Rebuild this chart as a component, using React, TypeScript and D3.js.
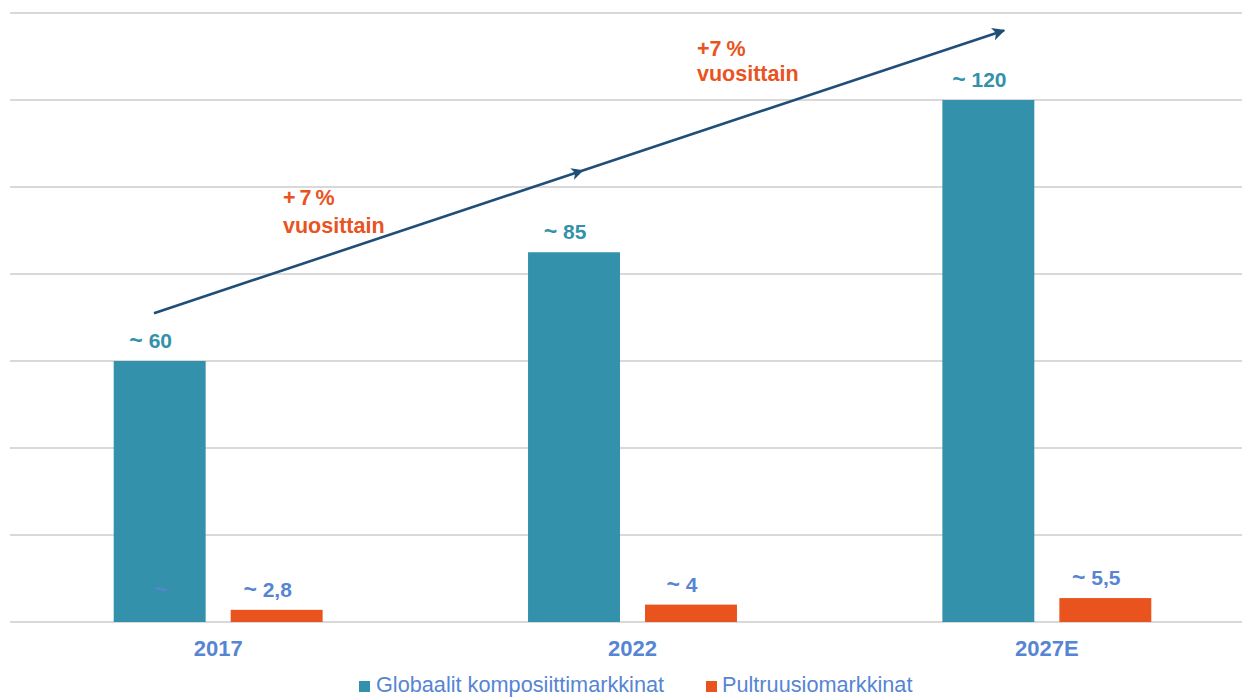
import React from "react";
import * as d3 from "d3";

const categories = ["2017", "2022", "2027E"];
const seriesNames = ["Globaalit komposiittimarkkinat", "Pultruusiomarkkinat"];
const compositeValues = [60, 85, 120];
const pultrusionValues = [2.8, 4, 5.5];
const compositeLabels = ["60", "85", "120"];
const pultrusionLabels = ["2,8", "4", "5,5"];
const yTicks = [0, 20, 40, 60, 80, 100, 120, 140];
const growthLabels = [["+ 7 %", "vuosittain"], ["+7 %", "vuosittain"]];

const W = 1242;
const H = 697;
const TEAL = "#3391AB";
const ORANGE = "#E9531E";
const BLUE = "#5685D3";
const NAVY = "#1F4E79";
const GRID = "#D9D9D9";
const FONT = "'Liberation Sans', Arial, sans-serif";

export default function App() {
  const x = d3.scaleBand<string>().domain(categories).range([11, 1254]).padding(0);
  const inner = d3
    .scaleBand<string>()
    .domain(seriesNames)
    .range([0, x.bandwidth()])
    .paddingInner(0.214)
    .paddingOuter(0.878);
  const y = d3.scaleLinear().domain([0, 140]).range([622, 13]);

  const series = [
    { name: seriesNames[0], values: compositeValues, labels: compositeLabels, color: TEAL, labelColor: "#3391AB" },
    { name: seriesNames[1], values: pultrusionValues, labels: pultrusionLabels, color: ORANGE, labelColor: BLUE },
  ];

  // growth arrow (annotation) anchored on scales
  const ax0 = (x("2017") as number) + 143;
  const ay0 = y(71);
  const ax1 = (x("2017") as number) + 993;
  const ay1 = y(136);
  const amx = (ax0 + ax1) / 2;
  const amy = (ay0 + ay1) / 2;
  const arrowPts: [number, number][] = [
    [ax0, ay0],
    [amx, amy],
    [ax1, ay1],
  ];
  const arrowPath = d3.line()(arrowPts) || "";

  return (
    <div style={{ position: "fixed", left: 0, top: 0 }}>
      <svg width={W} height={H} style={{ display: "block", fontFamily: FONT }}>
        <defs>
          <marker id="ah" viewBox="0 0 10 10" refX="9" refY="5" markerWidth="5" markerHeight="5" orient="auto" markerUnits="strokeWidth">
            <path d="M0,0 L10,5 L0,10 L2.5,5 Z" fill={NAVY} />
          </marker>
          <marker id="ahm" viewBox="0 0 10 10" refX="6" refY="5" markerWidth="4.6" markerHeight="4.6" orient="auto" markerUnits="strokeWidth">
            <path d="M0,0 L10,5 L0,10 L2.5,5 Z" fill={NAVY} />
          </marker>
        </defs>
        <rect width={W} height={H} fill="#fff" />
        {yTicks.map((t) => (
          <line key={t} x1={10} x2={W} y1={y(t)} y2={y(t)} stroke={GRID} strokeWidth={2} />
        ))}
        {categories.map((c, i) => (
          <g key={c}>
            {series.map((s) => {
              const bx = (x(c) as number) + (inner(s.name) as number);
              const bw = inner.bandwidth();
              const v = s.values[i];
              return (
                <g key={s.name}>
                  <rect x={bx} y={y(v)} width={bw} height={y(0) - y(v)} fill={s.color} />
                  <text
                    x={bx + bw / 2 - 9}
                    y={y(v) - 13}
                    textAnchor="middle"
                    fontSize={21}
                    fontWeight="bold"
                    fill={s.labelColor}
                  >
                    <tspan fontSize={23}>~</tspan>
                    <tspan> {s.labels[i]}</tspan>
                  </text>
                </g>
              );
            })}
            <text
              x={(x(c) as number) + x.bandwidth() / 2}
              y={656}
              textAnchor="middle"
              fontSize={22}
              fontWeight="bold"
              fill={BLUE}
            >
              {c}
            </text>
          </g>
        ))}
        {/* stray tilde inside the first teal bar */}
        <text
          x={(x("2017") as number) + (inner(seriesNames[0]) as number) + inner.bandwidth() / 2 + 1}
          y={597}
          textAnchor="middle"
          fontSize={23}
          fontWeight="bold"
          fill={BLUE}
        >
          ~
        </text>
        <path d={arrowPath} fill="none" stroke={NAVY} strokeWidth={2.6} markerMid="url(#ahm)" markerEnd="url(#ah)" />
        {/* growth labels */}
        <text x={283} y={205} fontSize={21.5} fontWeight="bold" fill={ORANGE} wordSpacing={-2}>
          {growthLabels[0][0]}
        </text>
        <text x={283} y={233} fontSize={21.5} fontWeight="bold" fill={ORANGE}>
          {growthLabels[0][1]}
        </text>
        <text x={697} y={56} fontSize={21.5} fontWeight="bold" fill={ORANGE} wordSpacing={-1}>
          {growthLabels[1][0]}
        </text>
        <text x={697} y={81} fontSize={21.5} fontWeight="bold" fill={ORANGE}>
          {growthLabels[1][1]}
        </text>
        {/* legend */}
        <g>
          <rect x={359} y={681} width={11} height={11} fill={TEAL} />
          <text x={376} y={692} fontSize={21.7} fill={BLUE}>
            {seriesNames[0]}
          </text>
          <rect x={706} y={681} width={11} height={11} fill={ORANGE} />
          <text x={722} y={692} fontSize={21.7} fill={BLUE}>
            {seriesNames[1]}
          </text>
        </g>
      </svg>
    </div>
  );
}
